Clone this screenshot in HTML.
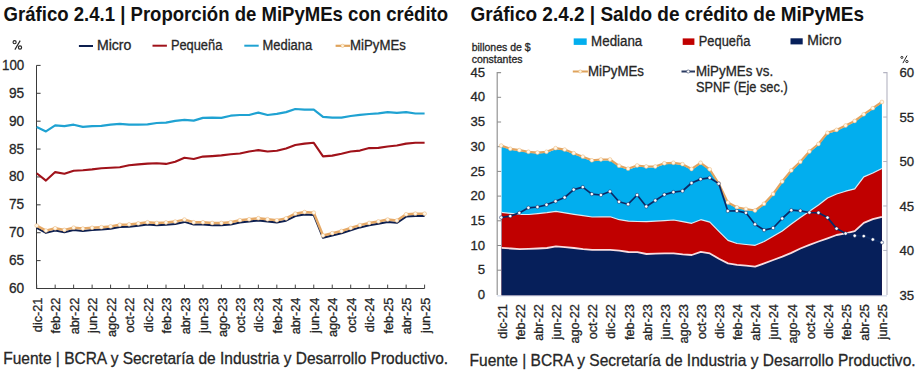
<!DOCTYPE html><html><head><meta charset="utf-8"><style>html,body{margin:0;padding:0;background:#fff;}svg{display:block} text{stroke:#262626;stroke-width:0.3px} text[font-weight]{stroke:none}</style></head><body>
<svg width="923" height="372" viewBox="0 0 923 372" font-family="'Liberation Sans', sans-serif" fill="#262626">
<text x="3.6" y="20.5" font-weight="bold" font-size="20.6" textLength="444.5" lengthAdjust="spacingAndGlyphs" fill="#111">Gráfico 2.4.1 | Proporción de MiPyMEs con crédito</text>
<text x="470.6" y="20.6" font-weight="bold" font-size="20.6" textLength="393.5" lengthAdjust="spacingAndGlyphs" fill="#111">Gráfico 2.4.2 | Saldo de crédito de MiPyMEs</text>
<g fill="none" stroke="#262626" stroke-width="1.15"><circle cx="14.6" cy="42.2" r="1.55"/><circle cx="20.0" cy="47.5" r="1.6"/><line x1="20.2" y1="40.6" x2="14.9" y2="49.6"/></g>
<line x1="78.9" y1="46" x2="93" y2="46" stroke="#0d1f4f" stroke-width="2"/>
<text x="96.9" y="50.4" font-size="13.8" textLength="34.5" lengthAdjust="spacingAndGlyphs">Micro</text>
<line x1="152.5" y1="45.7" x2="166.9" y2="45.7" stroke="#a0121a" stroke-width="2"/>
<text x="170.9" y="50.4" font-size="13.8" textLength="51.4" lengthAdjust="spacingAndGlyphs">Pequeña</text>
<line x1="244.3" y1="45.7" x2="258.7" y2="45.7" stroke="#1fa2d2" stroke-width="2"/>
<text x="262.6" y="50.4" font-size="13.8" textLength="49.5" lengthAdjust="spacingAndGlyphs">Mediana</text>
<line x1="335.6" y1="45.8" x2="350" y2="45.8" stroke="#dfa35c" stroke-width="2.2"/>
<circle cx="342.6" cy="45.8" r="1.7" fill="#fff4dc" stroke="#e8b070" stroke-width="0.5"/>
<text x="350.1" y="50.4" font-size="13.8" textLength="55.7" lengthAdjust="spacingAndGlyphs">MiPyMEs</text>
<text x="24.2" y="69.9" font-size="14.3" text-anchor="end" textLength="22.2" lengthAdjust="spacingAndGlyphs">100</text>
<line x1="36.5" y1="65.40" x2="40.6" y2="65.40" stroke="#3a3a3a" stroke-width="1"/>
<text x="24.2" y="97.8" font-size="14.3" text-anchor="end" textLength="15.2" lengthAdjust="spacingAndGlyphs">95</text>
<line x1="36.5" y1="93.29" x2="40.6" y2="93.29" stroke="#3a3a3a" stroke-width="1"/>
<text x="24.2" y="125.7" font-size="14.3" text-anchor="end" textLength="15.2" lengthAdjust="spacingAndGlyphs">90</text>
<line x1="36.5" y1="121.18" x2="40.6" y2="121.18" stroke="#3a3a3a" stroke-width="1"/>
<text x="24.2" y="153.6" font-size="14.3" text-anchor="end" textLength="15.2" lengthAdjust="spacingAndGlyphs">85</text>
<line x1="36.5" y1="149.06" x2="40.6" y2="149.06" stroke="#3a3a3a" stroke-width="1"/>
<text x="24.2" y="181.4" font-size="14.3" text-anchor="end" textLength="15.2" lengthAdjust="spacingAndGlyphs">80</text>
<line x1="36.5" y1="176.95" x2="40.6" y2="176.95" stroke="#3a3a3a" stroke-width="1"/>
<text x="24.2" y="209.3" font-size="14.3" text-anchor="end" textLength="15.2" lengthAdjust="spacingAndGlyphs">75</text>
<line x1="36.5" y1="204.84" x2="40.6" y2="204.84" stroke="#3a3a3a" stroke-width="1"/>
<text x="24.2" y="237.2" font-size="14.3" text-anchor="end" textLength="15.2" lengthAdjust="spacingAndGlyphs">70</text>
<line x1="36.5" y1="232.72" x2="40.6" y2="232.72" stroke="#3a3a3a" stroke-width="1"/>
<text x="24.2" y="265.1" font-size="14.3" text-anchor="end" textLength="15.2" lengthAdjust="spacingAndGlyphs">65</text>
<line x1="36.5" y1="260.61" x2="40.6" y2="260.61" stroke="#3a3a3a" stroke-width="1"/>
<text x="24.2" y="293.0" font-size="14.3" text-anchor="end" textLength="15.2" lengthAdjust="spacingAndGlyphs">60</text>
<line x1="36.5" y1="288.50" x2="40.6" y2="288.50" stroke="#3a3a3a" stroke-width="1"/>
<path d="M36.5,65.4 V288.5 H424.6" fill="none" stroke="#3a3a3a" stroke-width="1"/>
<line x1="36.70" y1="288.5" x2="36.70" y2="284.6" stroke="#444" stroke-width="1"/>
<line x1="55.17" y1="288.5" x2="55.17" y2="284.6" stroke="#444" stroke-width="1"/>
<line x1="73.64" y1="288.5" x2="73.64" y2="284.6" stroke="#444" stroke-width="1"/>
<line x1="92.11" y1="288.5" x2="92.11" y2="284.6" stroke="#444" stroke-width="1"/>
<line x1="110.59" y1="288.5" x2="110.59" y2="284.6" stroke="#444" stroke-width="1"/>
<line x1="129.06" y1="288.5" x2="129.06" y2="284.6" stroke="#444" stroke-width="1"/>
<line x1="147.53" y1="288.5" x2="147.53" y2="284.6" stroke="#444" stroke-width="1"/>
<line x1="166.00" y1="288.5" x2="166.00" y2="284.6" stroke="#444" stroke-width="1"/>
<line x1="184.47" y1="288.5" x2="184.47" y2="284.6" stroke="#444" stroke-width="1"/>
<line x1="202.94" y1="288.5" x2="202.94" y2="284.6" stroke="#444" stroke-width="1"/>
<line x1="221.41" y1="288.5" x2="221.41" y2="284.6" stroke="#444" stroke-width="1"/>
<line x1="239.89" y1="288.5" x2="239.89" y2="284.6" stroke="#444" stroke-width="1"/>
<line x1="258.36" y1="288.5" x2="258.36" y2="284.6" stroke="#444" stroke-width="1"/>
<line x1="276.83" y1="288.5" x2="276.83" y2="284.6" stroke="#444" stroke-width="1"/>
<line x1="295.30" y1="288.5" x2="295.30" y2="284.6" stroke="#444" stroke-width="1"/>
<line x1="313.77" y1="288.5" x2="313.77" y2="284.6" stroke="#444" stroke-width="1"/>
<line x1="332.24" y1="288.5" x2="332.24" y2="284.6" stroke="#444" stroke-width="1"/>
<line x1="350.71" y1="288.5" x2="350.71" y2="284.6" stroke="#444" stroke-width="1"/>
<line x1="369.19" y1="288.5" x2="369.19" y2="284.6" stroke="#444" stroke-width="1"/>
<line x1="387.66" y1="288.5" x2="387.66" y2="284.6" stroke="#444" stroke-width="1"/>
<line x1="406.13" y1="288.5" x2="406.13" y2="284.6" stroke="#444" stroke-width="1"/>
<line x1="424.60" y1="288.5" x2="424.60" y2="284.6" stroke="#444" stroke-width="1"/>
<text transform="translate(41.80,297.6) rotate(-90)" font-size="12.7" text-anchor="end">dic-21</text>
<text transform="translate(60.27,297.6) rotate(-90)" font-size="12.7" text-anchor="end">feb-22</text>
<text transform="translate(78.74,297.6) rotate(-90)" font-size="12.7" text-anchor="end">abr-22</text>
<text transform="translate(97.21,297.6) rotate(-90)" font-size="12.7" text-anchor="end">jun-22</text>
<text transform="translate(115.69,297.6) rotate(-90)" font-size="12.7" text-anchor="end">ago-22</text>
<text transform="translate(134.16,297.6) rotate(-90)" font-size="12.7" text-anchor="end">oct-22</text>
<text transform="translate(152.63,297.6) rotate(-90)" font-size="12.7" text-anchor="end">dic-22</text>
<text transform="translate(171.10,297.6) rotate(-90)" font-size="12.7" text-anchor="end">feb-23</text>
<text transform="translate(189.57,297.6) rotate(-90)" font-size="12.7" text-anchor="end">abr-23</text>
<text transform="translate(208.04,297.6) rotate(-90)" font-size="12.7" text-anchor="end">jun-23</text>
<text transform="translate(226.51,297.6) rotate(-90)" font-size="12.7" text-anchor="end">ago-23</text>
<text transform="translate(244.99,297.6) rotate(-90)" font-size="12.7" text-anchor="end">oct-23</text>
<text transform="translate(263.46,297.6) rotate(-90)" font-size="12.7" text-anchor="end">dic-23</text>
<text transform="translate(281.93,297.6) rotate(-90)" font-size="12.7" text-anchor="end">feb-24</text>
<text transform="translate(300.40,297.6) rotate(-90)" font-size="12.7" text-anchor="end">abr-24</text>
<text transform="translate(318.87,297.6) rotate(-90)" font-size="12.7" text-anchor="end">jun-24</text>
<text transform="translate(337.34,297.6) rotate(-90)" font-size="12.7" text-anchor="end">ago-24</text>
<text transform="translate(355.81,297.6) rotate(-90)" font-size="12.7" text-anchor="end">oct-24</text>
<text transform="translate(374.29,297.6) rotate(-90)" font-size="12.7" text-anchor="end">dic-24</text>
<text transform="translate(392.76,297.6) rotate(-90)" font-size="12.7" text-anchor="end">feb-25</text>
<text transform="translate(411.23,297.6) rotate(-90)" font-size="12.7" text-anchor="end">abr-25</text>
<text transform="translate(429.70,297.6) rotate(-90)" font-size="12.7" text-anchor="end">jun-25</text>
<polyline points="36.70,127.10 45.94,131.45 55.17,125.40 64.41,126.10 73.64,124.70 82.88,126.90 92.11,126.10 101.35,125.90 110.59,124.70 119.82,123.95 129.06,124.70 138.29,124.70 147.53,124.40 156.76,123.00 166.00,122.70 175.24,120.80 184.47,119.80 193.71,120.60 202.94,117.90 212.18,117.70 221.41,117.90 230.65,115.70 239.89,115.00 249.12,115.00 258.36,112.60 267.59,115.00 276.83,113.80 286.06,112.10 295.30,109.00 304.54,109.70 313.77,109.70 323.01,116.90 332.24,117.70 341.48,117.70 350.71,116.00 359.95,114.80 369.19,114.00 378.42,113.30 387.66,112.10 396.89,112.80 406.13,112.10 415.36,113.50 424.60,113.50" fill="none" stroke="#1fa2d2" stroke-width="2.2" stroke-linejoin="round"/>
<polyline points="36.70,173.30 45.94,180.60 55.17,172.10 64.41,173.80 73.64,170.70 82.88,170.20 92.11,169.40 101.35,168.20 110.59,167.70 119.82,167.30 129.06,165.30 138.29,164.40 147.53,163.60 156.76,163.20 166.00,163.90 175.24,161.70 184.47,157.80 193.71,159.00 202.94,156.60 212.18,156.10 221.41,155.40 230.65,154.20 239.89,153.50 249.12,151.50 258.36,150.10 267.59,151.50 276.83,150.80 286.06,148.40 295.30,145.00 304.54,143.60 313.77,142.80 323.01,156.40 332.24,155.60 341.48,153.70 350.71,151.50 359.95,150.60 369.19,148.10 378.42,147.90 387.66,146.50 396.89,145.50 406.13,143.60 415.36,142.80 424.60,142.80" fill="none" stroke="#a0121a" stroke-width="2.1" stroke-linejoin="round"/>
<polyline points="36.70,227.90 45.94,232.90 55.17,230.60 64.41,232.20 73.64,230.00 82.88,230.90 92.11,230.10 101.35,229.50 110.59,228.70 119.82,227.10 129.06,226.70 138.29,225.70 147.53,224.60 156.76,225.30 166.00,224.80 175.24,223.90 184.47,221.90 193.71,224.60 202.94,224.60 212.18,225.30 221.41,225.30 230.65,224.60 239.89,222.50 249.12,221.60 258.36,220.50 267.59,221.60 276.83,222.60 286.06,220.70 295.30,216.00 304.54,214.40 313.77,215.00 323.01,237.80 332.24,235.50 341.48,233.30 350.71,230.30 359.95,227.40 369.19,225.30 378.42,223.70 387.66,221.90 396.89,222.80 406.13,216.60 415.36,216.00 424.60,216.00" fill="none" stroke="#0d1f4f" stroke-width="2.0" stroke-linejoin="round"/>
<polyline points="36.70,225.60 45.94,230.60 55.17,228.30 64.41,229.90 73.64,227.70 82.88,228.60 92.11,227.80 101.35,227.20 110.59,226.40 119.82,224.80 129.06,224.40 138.29,223.40 147.53,222.30 156.76,223.00 166.00,222.50 175.24,221.60 184.47,219.60 193.71,222.30 202.94,222.30 212.18,223.00 221.41,223.00 230.65,222.30 239.89,220.20 249.12,219.30 258.36,218.20 267.59,219.30 276.83,220.30 286.06,218.40 295.30,213.70 304.54,212.10 313.77,212.70 323.01,235.50 332.24,233.20 341.48,231.00 350.71,228.00 359.95,225.10 369.19,223.00 378.42,221.40 387.66,219.60 396.89,220.50 406.13,214.30 415.36,213.70 424.60,213.70" fill="none" stroke="#e6aa68" stroke-width="2.5" stroke-linejoin="round"/>
<circle cx="36.70" cy="225.60" r="1.9" fill="#fff8ea" stroke="#eab070" stroke-width="0.5"/>
<circle cx="45.94" cy="230.60" r="1.9" fill="#fff8ea" stroke="#eab070" stroke-width="0.5"/>
<circle cx="55.17" cy="228.30" r="1.9" fill="#fff8ea" stroke="#eab070" stroke-width="0.5"/>
<circle cx="64.41" cy="229.90" r="1.9" fill="#fff8ea" stroke="#eab070" stroke-width="0.5"/>
<circle cx="73.64" cy="227.70" r="1.9" fill="#fff8ea" stroke="#eab070" stroke-width="0.5"/>
<circle cx="82.88" cy="228.60" r="1.9" fill="#fff8ea" stroke="#eab070" stroke-width="0.5"/>
<circle cx="92.11" cy="227.80" r="1.9" fill="#fff8ea" stroke="#eab070" stroke-width="0.5"/>
<circle cx="101.35" cy="227.20" r="1.9" fill="#fff8ea" stroke="#eab070" stroke-width="0.5"/>
<circle cx="110.59" cy="226.40" r="1.9" fill="#fff8ea" stroke="#eab070" stroke-width="0.5"/>
<circle cx="119.82" cy="224.80" r="1.9" fill="#fff8ea" stroke="#eab070" stroke-width="0.5"/>
<circle cx="129.06" cy="224.40" r="1.9" fill="#fff8ea" stroke="#eab070" stroke-width="0.5"/>
<circle cx="138.29" cy="223.40" r="1.9" fill="#fff8ea" stroke="#eab070" stroke-width="0.5"/>
<circle cx="147.53" cy="222.30" r="1.9" fill="#fff8ea" stroke="#eab070" stroke-width="0.5"/>
<circle cx="156.76" cy="223.00" r="1.9" fill="#fff8ea" stroke="#eab070" stroke-width="0.5"/>
<circle cx="166.00" cy="222.50" r="1.9" fill="#fff8ea" stroke="#eab070" stroke-width="0.5"/>
<circle cx="175.24" cy="221.60" r="1.9" fill="#fff8ea" stroke="#eab070" stroke-width="0.5"/>
<circle cx="184.47" cy="219.60" r="1.9" fill="#fff8ea" stroke="#eab070" stroke-width="0.5"/>
<circle cx="193.71" cy="222.30" r="1.9" fill="#fff8ea" stroke="#eab070" stroke-width="0.5"/>
<circle cx="202.94" cy="222.30" r="1.9" fill="#fff8ea" stroke="#eab070" stroke-width="0.5"/>
<circle cx="212.18" cy="223.00" r="1.9" fill="#fff8ea" stroke="#eab070" stroke-width="0.5"/>
<circle cx="221.41" cy="223.00" r="1.9" fill="#fff8ea" stroke="#eab070" stroke-width="0.5"/>
<circle cx="230.65" cy="222.30" r="1.9" fill="#fff8ea" stroke="#eab070" stroke-width="0.5"/>
<circle cx="239.89" cy="220.20" r="1.9" fill="#fff8ea" stroke="#eab070" stroke-width="0.5"/>
<circle cx="249.12" cy="219.30" r="1.9" fill="#fff8ea" stroke="#eab070" stroke-width="0.5"/>
<circle cx="258.36" cy="218.20" r="1.9" fill="#fff8ea" stroke="#eab070" stroke-width="0.5"/>
<circle cx="267.59" cy="219.30" r="1.9" fill="#fff8ea" stroke="#eab070" stroke-width="0.5"/>
<circle cx="276.83" cy="220.30" r="1.9" fill="#fff8ea" stroke="#eab070" stroke-width="0.5"/>
<circle cx="286.06" cy="218.40" r="1.9" fill="#fff8ea" stroke="#eab070" stroke-width="0.5"/>
<circle cx="295.30" cy="213.70" r="1.9" fill="#fff8ea" stroke="#eab070" stroke-width="0.5"/>
<circle cx="304.54" cy="212.10" r="1.9" fill="#fff8ea" stroke="#eab070" stroke-width="0.5"/>
<circle cx="313.77" cy="212.70" r="1.9" fill="#fff8ea" stroke="#eab070" stroke-width="0.5"/>
<circle cx="323.01" cy="235.50" r="1.9" fill="#fff8ea" stroke="#eab070" stroke-width="0.5"/>
<circle cx="332.24" cy="233.20" r="1.9" fill="#fff8ea" stroke="#eab070" stroke-width="0.5"/>
<circle cx="341.48" cy="231.00" r="1.9" fill="#fff8ea" stroke="#eab070" stroke-width="0.5"/>
<circle cx="350.71" cy="228.00" r="1.9" fill="#fff8ea" stroke="#eab070" stroke-width="0.5"/>
<circle cx="359.95" cy="225.10" r="1.9" fill="#fff8ea" stroke="#eab070" stroke-width="0.5"/>
<circle cx="369.19" cy="223.00" r="1.9" fill="#fff8ea" stroke="#eab070" stroke-width="0.5"/>
<circle cx="378.42" cy="221.40" r="1.9" fill="#fff8ea" stroke="#eab070" stroke-width="0.5"/>
<circle cx="387.66" cy="219.60" r="1.9" fill="#fff8ea" stroke="#eab070" stroke-width="0.5"/>
<circle cx="396.89" cy="220.50" r="1.9" fill="#fff8ea" stroke="#eab070" stroke-width="0.5"/>
<circle cx="406.13" cy="214.30" r="1.9" fill="#fff8ea" stroke="#eab070" stroke-width="0.5"/>
<circle cx="415.36" cy="213.70" r="1.9" fill="#fff8ea" stroke="#eab070" stroke-width="0.5"/>
<circle cx="424.60" cy="213.70" r="1.9" fill="#fff8ea" stroke="#eab070" stroke-width="0.5"/>
<text x="3.3" y="363.7" font-size="16.6" textLength="444.8" lengthAdjust="spacingAndGlyphs">Fuente | BCRA y Secretaría de Industria y Desarrollo Productivo.</text>
<text x="471.7" y="50.7" font-size="10.5">billones de $</text>
<text x="471.7" y="63" font-size="10.5">constantes</text>
<g fill="none" stroke="#262626" stroke-width="1"><circle cx="901.9" cy="57.4" r="1.05"/><circle cx="906.9" cy="61.5" r="1.15"/><line x1="907" y1="55.6" x2="902.9" y2="63.1"/></g>
<rect x="573.7" y="38.4" width="13" height="6.5" fill="#02aeee"/>
<text x="591.1" y="45.9" font-size="13.8" textLength="51.2" lengthAdjust="spacingAndGlyphs">Mediana</text>
<rect x="682.7" y="38.4" width="11.7" height="6.5" fill="#c00000"/>
<text x="698.8" y="45.9" font-size="13.8" textLength="51.5" lengthAdjust="spacingAndGlyphs">Pequeña</text>
<rect x="790.5" y="38.3" width="12.2" height="6.1" fill="#061f5a"/>
<text x="807.3" y="45.3" font-size="13.8" textLength="34.2" lengthAdjust="spacingAndGlyphs">Micro</text>
<line x1="572.8" y1="71.5" x2="587.9" y2="71.5" stroke="#dfa35c" stroke-width="2"/>
<circle cx="580.3" cy="71.5" r="1.6" fill="#fff8e0" stroke="#e8b070" stroke-width="0.5"/>
<text x="587.9" y="76.1" font-size="13.8" textLength="56.1" lengthAdjust="spacingAndGlyphs">MiPyMEs</text>
<line x1="681.5" y1="71.5" x2="695" y2="71.5" stroke="#2a3a60" stroke-width="2"/>
<circle cx="688.2" cy="71.5" r="1.6" fill="#fff" stroke="#2a3a60" stroke-width="0.5"/>
<text x="696.0" y="76.1" font-size="13.8" textLength="77.1" lengthAdjust="spacingAndGlyphs">MiPyMEs vs.</text>
<text x="696.0" y="91.7" font-size="13.8" textLength="91.7" lengthAdjust="spacingAndGlyphs">SPNF (Eje sec.)</text>
<text x="485.2" y="76.7" font-size="13.2" text-anchor="end">45</text>
<text x="485.2" y="101.4" font-size="13.2" text-anchor="end">40</text>
<text x="485.2" y="126.1" font-size="13.2" text-anchor="end">35</text>
<text x="485.2" y="150.8" font-size="13.2" text-anchor="end">30</text>
<text x="485.2" y="175.5" font-size="13.2" text-anchor="end">25</text>
<text x="485.2" y="200.2" font-size="13.2" text-anchor="end">20</text>
<text x="485.2" y="224.9" font-size="13.2" text-anchor="end">15</text>
<text x="485.2" y="249.6" font-size="13.2" text-anchor="end">10</text>
<text x="485.2" y="274.3" font-size="13.2" text-anchor="end">5</text>
<text x="485.2" y="299.0" font-size="13.2" text-anchor="end">0</text>
<text x="899.4" y="77.2" font-size="13.2">60</text>
<text x="899.4" y="121.7" font-size="13.2">55</text>
<text x="899.4" y="166.1" font-size="13.2">50</text>
<text x="899.4" y="210.6" font-size="13.2">45</text>
<text x="899.4" y="255.0" font-size="13.2">40</text>
<text x="899.4" y="299.5" font-size="13.2">35</text>
<path d="M501.60,146.60 L510.65,149.80 L519.71,151.20 L528.76,152.80 L537.82,153.60 L546.87,152.80 L555.93,149.20 L564.98,150.60 L574.04,154.20 L583.09,157.70 L592.15,161.30 L601.20,160.50 L610.26,160.50 L619.31,166.80 L628.37,169.70 L637.42,166.50 L646.48,167.50 L655.53,167.50 L664.59,164.30 L673.64,163.80 L682.70,165.20 L691.75,170.00 L700.80,163.80 L709.86,170.30 L718.91,184.50 L727.97,203.50 L737.02,208.30 L746.08,210.00 L755.13,211.50 L764.19,204.80 L773.24,195.00 L782.30,182.50 L791.35,171.40 L800.41,162.80 L809.46,152.50 L818.52,145.00 L827.57,133.80 L836.63,130.90 L845.68,126.50 L854.74,122.00 L863.79,115.30 L872.85,109.20 L881.90,103.00 L881.90,295.40 L872.85,295.40 L863.79,295.40 L854.74,295.40 L845.68,295.40 L836.63,295.40 L827.57,295.40 L818.52,295.40 L809.46,295.40 L800.41,295.40 L791.35,295.40 L782.30,295.40 L773.24,295.40 L764.19,295.40 L755.13,295.40 L746.08,295.40 L737.02,295.40 L727.97,295.40 L718.91,295.40 L709.86,295.40 L700.80,295.40 L691.75,295.40 L682.70,295.40 L673.64,295.40 L664.59,295.40 L655.53,295.40 L646.48,295.40 L637.42,295.40 L628.37,295.40 L619.31,295.40 L610.26,295.40 L601.20,295.40 L592.15,295.40 L583.09,295.40 L574.04,295.40 L564.98,295.40 L555.93,295.40 L546.87,295.40 L537.82,295.40 L528.76,295.40 L519.71,295.40 L510.65,295.40 L501.60,295.40 Z" fill="#02aeee"/>
<path d="M501.60,212.30 L510.65,213.40 L519.71,214.30 L528.76,214.50 L537.82,213.60 L546.87,212.60 L555.93,211.30 L564.98,212.90 L574.04,214.30 L583.09,215.60 L592.15,217.00 L601.20,216.80 L610.26,216.80 L619.31,219.70 L628.37,221.10 L637.42,221.50 L646.48,221.70 L655.53,221.10 L664.59,220.60 L673.64,220.00 L682.70,221.70 L691.75,223.30 L700.80,219.70 L709.86,222.20 L718.91,231.40 L727.97,240.40 L737.02,243.50 L746.08,244.50 L755.13,245.30 L764.19,241.50 L773.24,236.20 L782.30,231.00 L791.35,224.00 L800.41,217.50 L809.46,211.20 L818.52,205.00 L827.57,198.00 L836.63,194.00 L845.68,191.20 L854.74,188.90 L863.79,176.90 L872.85,173.00 L881.90,168.50 L881.90,295.40 L872.85,295.40 L863.79,295.40 L854.74,295.40 L845.68,295.40 L836.63,295.40 L827.57,295.40 L818.52,295.40 L809.46,295.40 L800.41,295.40 L791.35,295.40 L782.30,295.40 L773.24,295.40 L764.19,295.40 L755.13,295.40 L746.08,295.40 L737.02,295.40 L727.97,295.40 L718.91,295.40 L709.86,295.40 L700.80,295.40 L691.75,295.40 L682.70,295.40 L673.64,295.40 L664.59,295.40 L655.53,295.40 L646.48,295.40 L637.42,295.40 L628.37,295.40 L619.31,295.40 L610.26,295.40 L601.20,295.40 L592.15,295.40 L583.09,295.40 L574.04,295.40 L564.98,295.40 L555.93,295.40 L546.87,295.40 L537.82,295.40 L528.76,295.40 L519.71,295.40 L510.65,295.40 L501.60,295.40 Z" fill="#c00000"/>
<path d="M501.60,247.80 L510.65,248.50 L519.71,249.10 L528.76,248.90 L537.82,248.50 L546.87,248.00 L555.93,246.40 L564.98,247.10 L574.04,248.00 L583.09,249.10 L592.15,249.80 L601.20,249.80 L610.26,249.80 L619.31,250.70 L628.37,252.00 L637.42,252.10 L646.48,254.00 L655.53,253.60 L664.59,253.40 L673.64,253.40 L682.70,254.40 L691.75,255.00 L700.80,251.80 L709.86,253.40 L718.91,258.80 L727.97,263.40 L737.02,264.80 L746.08,265.60 L755.13,266.60 L764.19,263.40 L773.24,260.00 L782.30,256.70 L791.35,252.90 L800.41,248.50 L809.46,244.80 L818.52,241.50 L827.57,238.30 L836.63,235.00 L845.68,233.30 L854.74,231.20 L863.79,222.80 L872.85,219.20 L881.90,216.90 L881.90,295.40 L872.85,295.40 L863.79,295.40 L854.74,295.40 L845.68,295.40 L836.63,295.40 L827.57,295.40 L818.52,295.40 L809.46,295.40 L800.41,295.40 L791.35,295.40 L782.30,295.40 L773.24,295.40 L764.19,295.40 L755.13,295.40 L746.08,295.40 L737.02,295.40 L727.97,295.40 L718.91,295.40 L709.86,295.40 L700.80,295.40 L691.75,295.40 L682.70,295.40 L673.64,295.40 L664.59,295.40 L655.53,295.40 L646.48,295.40 L637.42,295.40 L628.37,295.40 L619.31,295.40 L610.26,295.40 L601.20,295.40 L592.15,295.40 L583.09,295.40 L574.04,295.40 L564.98,295.40 L555.93,295.40 L546.87,295.40 L537.82,295.40 L528.76,295.40 L519.71,295.40 L510.65,295.40 L501.60,295.40 Z" fill="#061f5a"/>
<polyline points="501.60,212.30 510.65,213.40 519.71,214.30 528.76,214.50 537.82,213.60 546.87,212.60 555.93,211.30 564.98,212.90 574.04,214.30 583.09,215.60 592.15,217.00 601.20,216.80 610.26,216.80 619.31,219.70 628.37,221.10 637.42,221.50 646.48,221.70 655.53,221.10 664.59,220.60 673.64,220.00 682.70,221.70 691.75,223.30 700.80,219.70 709.86,222.20 718.91,231.40 727.97,240.40 737.02,243.50 746.08,244.50 755.13,245.30 764.19,241.50 773.24,236.20 782.30,231.00 791.35,224.00 800.41,217.50 809.46,211.20 818.52,205.00 827.57,198.00 836.63,194.00 845.68,191.20 854.74,188.90 863.79,176.90 872.85,173.00 881.90,168.50" fill="none" stroke="#d8ecf5" stroke-width="1.2" stroke-linejoin="round"/>
<polyline points="501.60,247.80 510.65,248.50 519.71,249.10 528.76,248.90 537.82,248.50 546.87,248.00 555.93,246.40 564.98,247.10 574.04,248.00 583.09,249.10 592.15,249.80 601.20,249.80 610.26,249.80 619.31,250.70 628.37,252.00 637.42,252.10 646.48,254.00 655.53,253.60 664.59,253.40 673.64,253.40 682.70,254.40 691.75,255.00 700.80,251.80 709.86,253.40 718.91,258.80 727.97,263.40 737.02,264.80 746.08,265.60 755.13,266.60 764.19,263.40 773.24,260.00 782.30,256.70 791.35,252.90 800.41,248.50 809.46,244.80 818.52,241.50 827.57,238.30 836.63,235.00 845.68,233.30 854.74,231.20 863.79,222.80 872.85,219.20 881.90,216.90" fill="none" stroke="#f8dde0" stroke-width="1.8" stroke-linejoin="round"/>
<path d="M501.1,72.6 H497.2 V294.9" fill="none" stroke="#949494" stroke-width="1.2"/>
<path d="M887,294.9 V72.6 H883.2" fill="none" stroke="#b4b4c2" stroke-width="1.1"/>
<line x1="497.2" y1="295.9" x2="887" y2="295.9" stroke="#c9d3e6" stroke-width="1"/>
<line x1="497.2" y1="97.30" x2="501.1" y2="97.30" stroke="#8a8a8a" stroke-width="1"/>
<line x1="497.2" y1="122.00" x2="501.1" y2="122.00" stroke="#8a8a8a" stroke-width="1"/>
<line x1="497.2" y1="146.70" x2="501.1" y2="146.70" stroke="#8a8a8a" stroke-width="1"/>
<line x1="497.2" y1="171.40" x2="501.1" y2="171.40" stroke="#8a8a8a" stroke-width="1"/>
<line x1="497.2" y1="196.10" x2="501.1" y2="196.10" stroke="#8a8a8a" stroke-width="1"/>
<line x1="497.2" y1="220.80" x2="501.1" y2="220.80" stroke="#8a8a8a" stroke-width="1"/>
<line x1="497.2" y1="245.50" x2="501.1" y2="245.50" stroke="#8a8a8a" stroke-width="1"/>
<line x1="497.2" y1="270.20" x2="501.1" y2="270.20" stroke="#8a8a8a" stroke-width="1"/>
<line x1="883.2" y1="117.06" x2="887" y2="117.06" stroke="#b4b4c2" stroke-width="1"/>
<line x1="883.2" y1="161.52" x2="887" y2="161.52" stroke="#b4b4c2" stroke-width="1"/>
<line x1="883.2" y1="205.98" x2="887" y2="205.98" stroke="#b4b4c2" stroke-width="1"/>
<line x1="883.2" y1="250.44" x2="887" y2="250.44" stroke="#b4b4c2" stroke-width="1"/>
<polyline points="501.20,145.60 510.26,148.80 519.33,150.20 528.39,151.80 537.46,152.60 546.52,151.80 555.59,148.20 564.65,149.60 573.71,153.20 582.78,156.70 591.84,160.30 600.91,159.50 609.97,159.50 619.04,165.80 628.10,168.70 637.16,165.50 646.23,166.50 655.29,166.50 664.36,163.30 673.42,162.80 682.49,164.20 691.55,169.00 700.61,162.80 709.68,169.30 718.74,183.50 727.81,202.50 736.87,207.30 745.94,209.00 755.00,210.50 764.06,203.80 773.13,194.00 782.19,181.50 791.26,170.40 800.32,161.80 809.39,151.50 818.45,144.00 827.51,132.80 836.58,129.90 845.64,125.50 854.71,121.00 863.77,114.30 872.84,108.20 881.90,102.00" fill="none" stroke="#e2a461" stroke-width="2.2" stroke-linejoin="round"/>
<circle cx="501.20" cy="145.60" r="1.9" fill="#fff8ea" stroke="#eab070" stroke-width="0.5"/>
<circle cx="510.26" cy="148.80" r="1.9" fill="#fff8ea" stroke="#eab070" stroke-width="0.5"/>
<circle cx="519.33" cy="150.20" r="1.9" fill="#fff8ea" stroke="#eab070" stroke-width="0.5"/>
<circle cx="528.39" cy="151.80" r="1.9" fill="#fff8ea" stroke="#eab070" stroke-width="0.5"/>
<circle cx="537.46" cy="152.60" r="1.9" fill="#fff8ea" stroke="#eab070" stroke-width="0.5"/>
<circle cx="546.52" cy="151.80" r="1.9" fill="#fff8ea" stroke="#eab070" stroke-width="0.5"/>
<circle cx="555.59" cy="148.20" r="1.9" fill="#fff8ea" stroke="#eab070" stroke-width="0.5"/>
<circle cx="564.65" cy="149.60" r="1.9" fill="#fff8ea" stroke="#eab070" stroke-width="0.5"/>
<circle cx="573.71" cy="153.20" r="1.9" fill="#fff8ea" stroke="#eab070" stroke-width="0.5"/>
<circle cx="582.78" cy="156.70" r="1.9" fill="#fff8ea" stroke="#eab070" stroke-width="0.5"/>
<circle cx="591.84" cy="160.30" r="1.9" fill="#fff8ea" stroke="#eab070" stroke-width="0.5"/>
<circle cx="600.91" cy="159.50" r="1.9" fill="#fff8ea" stroke="#eab070" stroke-width="0.5"/>
<circle cx="609.97" cy="159.50" r="1.9" fill="#fff8ea" stroke="#eab070" stroke-width="0.5"/>
<circle cx="619.04" cy="165.80" r="1.9" fill="#fff8ea" stroke="#eab070" stroke-width="0.5"/>
<circle cx="628.10" cy="168.70" r="1.9" fill="#fff8ea" stroke="#eab070" stroke-width="0.5"/>
<circle cx="637.16" cy="165.50" r="1.9" fill="#fff8ea" stroke="#eab070" stroke-width="0.5"/>
<circle cx="646.23" cy="166.50" r="1.9" fill="#fff8ea" stroke="#eab070" stroke-width="0.5"/>
<circle cx="655.29" cy="166.50" r="1.9" fill="#fff8ea" stroke="#eab070" stroke-width="0.5"/>
<circle cx="664.36" cy="163.30" r="1.9" fill="#fff8ea" stroke="#eab070" stroke-width="0.5"/>
<circle cx="673.42" cy="162.80" r="1.9" fill="#fff8ea" stroke="#eab070" stroke-width="0.5"/>
<circle cx="682.49" cy="164.20" r="1.9" fill="#fff8ea" stroke="#eab070" stroke-width="0.5"/>
<circle cx="691.55" cy="169.00" r="1.9" fill="#fff8ea" stroke="#eab070" stroke-width="0.5"/>
<circle cx="700.61" cy="162.80" r="1.9" fill="#fff8ea" stroke="#eab070" stroke-width="0.5"/>
<circle cx="709.68" cy="169.30" r="1.9" fill="#fff8ea" stroke="#eab070" stroke-width="0.5"/>
<circle cx="718.74" cy="183.50" r="1.9" fill="#fff8ea" stroke="#eab070" stroke-width="0.5"/>
<circle cx="727.81" cy="202.50" r="1.9" fill="#fff8ea" stroke="#eab070" stroke-width="0.5"/>
<circle cx="736.87" cy="207.30" r="1.9" fill="#fff8ea" stroke="#eab070" stroke-width="0.5"/>
<circle cx="745.94" cy="209.00" r="1.9" fill="#fff8ea" stroke="#eab070" stroke-width="0.5"/>
<circle cx="755.00" cy="210.50" r="1.9" fill="#fff8ea" stroke="#eab070" stroke-width="0.5"/>
<circle cx="764.06" cy="203.80" r="1.9" fill="#fff8ea" stroke="#eab070" stroke-width="0.5"/>
<circle cx="773.13" cy="194.00" r="1.9" fill="#fff8ea" stroke="#eab070" stroke-width="0.5"/>
<circle cx="782.19" cy="181.50" r="1.9" fill="#fff8ea" stroke="#eab070" stroke-width="0.5"/>
<circle cx="791.26" cy="170.40" r="1.9" fill="#fff8ea" stroke="#eab070" stroke-width="0.5"/>
<circle cx="800.32" cy="161.80" r="1.9" fill="#fff8ea" stroke="#eab070" stroke-width="0.5"/>
<circle cx="809.39" cy="151.50" r="1.9" fill="#fff8ea" stroke="#eab070" stroke-width="0.5"/>
<circle cx="818.45" cy="144.00" r="1.9" fill="#fff8ea" stroke="#eab070" stroke-width="0.5"/>
<circle cx="827.51" cy="132.80" r="1.9" fill="#fff8ea" stroke="#eab070" stroke-width="0.5"/>
<circle cx="836.58" cy="129.90" r="1.9" fill="#fff8ea" stroke="#eab070" stroke-width="0.5"/>
<circle cx="845.64" cy="125.50" r="1.9" fill="#fff8ea" stroke="#eab070" stroke-width="0.5"/>
<circle cx="854.71" cy="121.00" r="1.9" fill="#fff8ea" stroke="#eab070" stroke-width="0.5"/>
<circle cx="863.77" cy="114.30" r="1.9" fill="#fff8ea" stroke="#eab070" stroke-width="0.5"/>
<circle cx="872.84" cy="108.20" r="1.9" fill="#fff8ea" stroke="#eab070" stroke-width="0.5"/>
<circle cx="881.90" cy="102.00" r="1.9" fill="#fff8ea" stroke="#eab070" stroke-width="0.5"/>
<polyline points="501.20,217.50 510.26,216.10 519.33,212.90 528.39,207.80 537.46,207.00 546.52,204.80 555.59,201.30 564.65,197.50 573.71,189.60 582.78,187.10 591.84,194.10 600.91,195.00 609.97,191.50 619.04,201.80 628.10,204.20 637.16,195.00 646.23,206.50 655.29,200.50 664.36,194.60 673.42,192.10 682.49,191.00 691.55,183.00 700.61,179.10 709.68,177.80 718.74,183.60 727.81,211.00 736.87,210.90 745.94,212.80 755.00,224.30 764.06,230.10 773.13,228.00 782.19,218.50 791.26,210.20 800.32,210.80 809.39,212.50 818.45,212.80 827.51,217.60 836.58,228.60 845.64,233.50 854.71,235.70 863.77,236.10 872.84,239.50 881.90,242.50" fill="none" stroke="#0b2a66" stroke-width="1.7" stroke-linejoin="round"/>
<circle cx="501.20" cy="217.50" r="1.7" fill="#fff" stroke="#061f5a" stroke-width="0.5"/>
<circle cx="510.26" cy="216.10" r="1.7" fill="#fff" stroke="#061f5a" stroke-width="0.5"/>
<circle cx="519.33" cy="212.90" r="1.7" fill="#fff" stroke="#061f5a" stroke-width="0.5"/>
<circle cx="528.39" cy="207.80" r="1.7" fill="#fff" stroke="#061f5a" stroke-width="0.5"/>
<circle cx="537.46" cy="207.00" r="1.7" fill="#fff" stroke="#061f5a" stroke-width="0.5"/>
<circle cx="546.52" cy="204.80" r="1.7" fill="#fff" stroke="#061f5a" stroke-width="0.5"/>
<circle cx="555.59" cy="201.30" r="1.7" fill="#fff" stroke="#061f5a" stroke-width="0.5"/>
<circle cx="564.65" cy="197.50" r="1.7" fill="#fff" stroke="#061f5a" stroke-width="0.5"/>
<circle cx="573.71" cy="189.60" r="1.7" fill="#fff" stroke="#061f5a" stroke-width="0.5"/>
<circle cx="582.78" cy="187.10" r="1.7" fill="#fff" stroke="#061f5a" stroke-width="0.5"/>
<circle cx="591.84" cy="194.10" r="1.7" fill="#fff" stroke="#061f5a" stroke-width="0.5"/>
<circle cx="600.91" cy="195.00" r="1.7" fill="#fff" stroke="#061f5a" stroke-width="0.5"/>
<circle cx="609.97" cy="191.50" r="1.7" fill="#fff" stroke="#061f5a" stroke-width="0.5"/>
<circle cx="619.04" cy="201.80" r="1.7" fill="#fff" stroke="#061f5a" stroke-width="0.5"/>
<circle cx="628.10" cy="204.20" r="1.7" fill="#fff" stroke="#061f5a" stroke-width="0.5"/>
<circle cx="637.16" cy="195.00" r="1.7" fill="#fff" stroke="#061f5a" stroke-width="0.5"/>
<circle cx="646.23" cy="206.50" r="1.7" fill="#fff" stroke="#061f5a" stroke-width="0.5"/>
<circle cx="655.29" cy="200.50" r="1.7" fill="#fff" stroke="#061f5a" stroke-width="0.5"/>
<circle cx="664.36" cy="194.60" r="1.7" fill="#fff" stroke="#061f5a" stroke-width="0.5"/>
<circle cx="673.42" cy="192.10" r="1.7" fill="#fff" stroke="#061f5a" stroke-width="0.5"/>
<circle cx="682.49" cy="191.00" r="1.7" fill="#fff" stroke="#061f5a" stroke-width="0.5"/>
<circle cx="691.55" cy="183.00" r="1.7" fill="#fff" stroke="#061f5a" stroke-width="0.5"/>
<circle cx="700.61" cy="179.10" r="1.7" fill="#fff" stroke="#061f5a" stroke-width="0.5"/>
<circle cx="709.68" cy="177.80" r="1.7" fill="#fff" stroke="#061f5a" stroke-width="0.5"/>
<circle cx="718.74" cy="183.60" r="1.7" fill="#fff" stroke="#061f5a" stroke-width="0.5"/>
<circle cx="727.81" cy="211.00" r="1.7" fill="#fff" stroke="#061f5a" stroke-width="0.5"/>
<circle cx="736.87" cy="210.90" r="1.7" fill="#fff" stroke="#061f5a" stroke-width="0.5"/>
<circle cx="745.94" cy="212.80" r="1.7" fill="#fff" stroke="#061f5a" stroke-width="0.5"/>
<circle cx="755.00" cy="224.30" r="1.7" fill="#fff" stroke="#061f5a" stroke-width="0.5"/>
<circle cx="764.06" cy="230.10" r="1.7" fill="#fff" stroke="#061f5a" stroke-width="0.5"/>
<circle cx="773.13" cy="228.00" r="1.7" fill="#fff" stroke="#061f5a" stroke-width="0.5"/>
<circle cx="782.19" cy="218.50" r="1.7" fill="#fff" stroke="#061f5a" stroke-width="0.5"/>
<circle cx="791.26" cy="210.20" r="1.7" fill="#fff" stroke="#061f5a" stroke-width="0.5"/>
<circle cx="800.32" cy="210.80" r="1.7" fill="#fff" stroke="#061f5a" stroke-width="0.5"/>
<circle cx="809.39" cy="212.50" r="1.7" fill="#fff" stroke="#061f5a" stroke-width="0.5"/>
<circle cx="818.45" cy="212.80" r="1.7" fill="#fff" stroke="#061f5a" stroke-width="0.5"/>
<circle cx="827.51" cy="217.60" r="1.7" fill="#fff" stroke="#061f5a" stroke-width="0.5"/>
<circle cx="836.58" cy="228.60" r="1.7" fill="#fff" stroke="#061f5a" stroke-width="0.5"/>
<circle cx="845.64" cy="233.50" r="1.7" fill="#fff" stroke="#061f5a" stroke-width="0.5"/>
<circle cx="854.71" cy="235.70" r="1.7" fill="#fff" stroke="#061f5a" stroke-width="0.5"/>
<circle cx="863.77" cy="236.10" r="1.7" fill="#fff" stroke="#061f5a" stroke-width="0.5"/>
<circle cx="872.84" cy="239.50" r="1.7" fill="#fff" stroke="#061f5a" stroke-width="0.5"/>
<circle cx="881.90" cy="242.50" r="1.7" fill="#fff" stroke="#061f5a" stroke-width="0.5"/>
<text transform="translate(506.80,304.1) rotate(-90)" font-size="12.7" text-anchor="end">dic-21</text>
<text transform="translate(524.91,304.1) rotate(-90)" font-size="12.7" text-anchor="end">feb-22</text>
<text transform="translate(543.02,304.1) rotate(-90)" font-size="12.7" text-anchor="end">abr-22</text>
<text transform="translate(561.13,304.1) rotate(-90)" font-size="12.7" text-anchor="end">jun-22</text>
<text transform="translate(579.24,304.1) rotate(-90)" font-size="12.7" text-anchor="end">ago-22</text>
<text transform="translate(597.35,304.1) rotate(-90)" font-size="12.7" text-anchor="end">oct-22</text>
<text transform="translate(615.46,304.1) rotate(-90)" font-size="12.7" text-anchor="end">dic-22</text>
<text transform="translate(633.57,304.1) rotate(-90)" font-size="12.7" text-anchor="end">feb-23</text>
<text transform="translate(651.68,304.1) rotate(-90)" font-size="12.7" text-anchor="end">abr-23</text>
<text transform="translate(669.79,304.1) rotate(-90)" font-size="12.7" text-anchor="end">jun-23</text>
<text transform="translate(687.90,304.1) rotate(-90)" font-size="12.7" text-anchor="end">ago-23</text>
<text transform="translate(706.00,304.1) rotate(-90)" font-size="12.7" text-anchor="end">oct-23</text>
<text transform="translate(724.11,304.1) rotate(-90)" font-size="12.7" text-anchor="end">dic-23</text>
<text transform="translate(742.22,304.1) rotate(-90)" font-size="12.7" text-anchor="end">feb-24</text>
<text transform="translate(760.33,304.1) rotate(-90)" font-size="12.7" text-anchor="end">abr-24</text>
<text transform="translate(778.44,304.1) rotate(-90)" font-size="12.7" text-anchor="end">jun-24</text>
<text transform="translate(796.55,304.1) rotate(-90)" font-size="12.7" text-anchor="end">ago-24</text>
<text transform="translate(814.66,304.1) rotate(-90)" font-size="12.7" text-anchor="end">oct-24</text>
<text transform="translate(832.77,304.1) rotate(-90)" font-size="12.7" text-anchor="end">dic-24</text>
<text transform="translate(850.88,304.1) rotate(-90)" font-size="12.7" text-anchor="end">feb-25</text>
<text transform="translate(868.99,304.1) rotate(-90)" font-size="12.7" text-anchor="end">abr-25</text>
<text transform="translate(887.10,304.1) rotate(-90)" font-size="12.7" text-anchor="end">jun-25</text>
<text x="469.6" y="365.6" font-size="16.6" textLength="446" lengthAdjust="spacingAndGlyphs">Fuente | BCRA y Secretaría de Industria y Desarrollo Productivo.</text>
</svg></body></html>
